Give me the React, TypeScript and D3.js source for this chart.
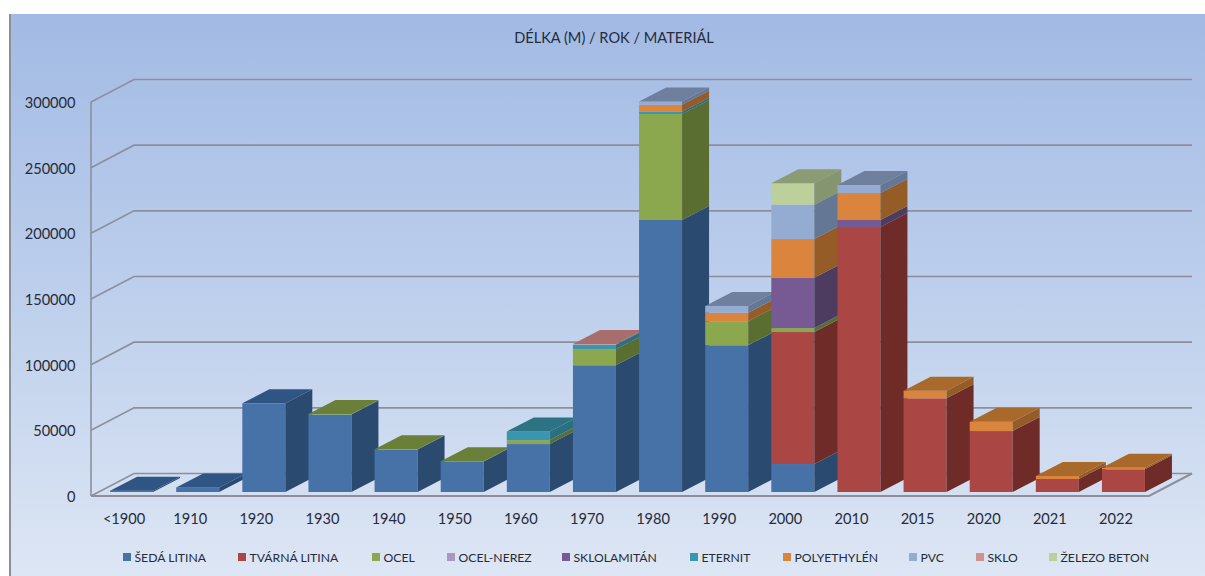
import React from "react";
import * as d3 from "d3";

// Pipe length in metres by decade of installation and material.
const categories = ["<1900", "1910", "1920", "1930", "1940", "1950", "1960", "1970", "1980", "1990", "2000", "2010", "2015", "2020", "2021", "2022"];
const sedaLitina = [1000, 3500, 67500, 59000, 32300, 23300, 36500, 96500, 207100, 111700, 21300, 0, 0, 0, 0, 0];
const tvarnaLitina = [0, 0, 0, 0, 0, 0, 0, 0, 0, 0, 100500, 201800, 71300, 46400, 9900, 17300];
const ocel = [0, 0, 0, 400, 200, 200, 3000, 12200, 80700, 18300, 3000, 0, 0, 0, 0, 0];
const ocelNerez = [0, 0, 0, 0, 0, 0, 0, 0, 0, 0, 0, 0, 0, 0, 0, 0];
const sklolaminat = [0, 0, 0, 0, 0, 0, 0, 0, 0, 0, 38400, 5300, 0, 0, 0, 0];
const eternit = [0, 0, 0, 0, 0, 0, 6600, 3500, 1700, 0, 0, 0, 0, 0, 0, 0];
const polyethylen = [0, 0, 0, 0, 0, 0, 0, 0, 5300, 6500, 29400, 20600, 5800, 7100, 2300, 1200];
const pvc = [0, 0, 0, 0, 0, 0, 0, 0, 2600, 5100, 26200, 6100, 0, 0, 0, 0];
const sklo = [0, 0, 0, 0, 0, 0, 0, 400, 0, 0, 0, 0, 0, 0, 0, 0];
const zelezoBeton = [0, 0, 0, 0, 0, 0, 0, 0, 0, 0, 16200, 0, 0, 0, 0, 0];

const seriesNames = ["ŠEDÁ LITINA", "TVÁRNÁ LITINA", "OCEL", "OCEL-NEREZ", "SKLOLAMITÁN", "ETERNIT", "POLYETHYLÉN", "PVC", "SKLO", "ŽELEZO BETON"];
const seriesValues = [sedaLitina, tvarnaLitina, ocel, ocelNerez, sklolaminat, eternit, polyethylen, pvc, sklo, zelezoBeton];
const frontColors = ["#4672A8", "#AA4643", "#8CA84E", "#A999C2", "#775A93", "#3A96AE", "#DB843D", "#95ACD2", "#D09290", "#BBD09A"];
const sideColors = ["#2B4A70", "#6E2B28", "#5A6E32", "#6E6280", "#4D3B60", "#2A7080", "#965C28", "#647896", "#8A6060", "#85956F"];
const topColors = ["#2F5585", "#7E3431", "#6A8038", "#7F7394", "#5A4870", "#2C7484", "#A8692A", "#6F809E", "#A86E6E", "#8B9C75"];
const legendSwatchX = [123, 238, 372, 447, 562, 690, 783, 909, 976, 1049];
const tickValues = [0, 50000, 100000, 150000, 200000, 250000, 300000];

const WIDTH = 1205;
const HEIGHT = 576;
const FONT = "Lato, Carlito, sans-serif";

// Oblique projection: the floor runs from the front edge to the back wall.
const floor = { left: 91, right: 1149, y: 496 };
const wallDepth = { dx: 43, dy: -22.5 };
const barFront = { dx: 7.5, dy: -4 };
const barDepth = { dx: 27, dy: -14 };

const rows = categories.map((c, i) => {
  const row: Record<string, number | string> = { category: c };
  seriesNames.forEach((n, s) => (row[n] = seriesValues[s][i]));
  return row;
});
const stacked = d3.stack<any>().keys(seriesNames)(rows);

const x = d3.scaleBand<string>().domain(categories).range([floor.left, floor.right]).paddingInner(0.35).paddingOuter(0.175);
const y = d3.scaleLinear().domain([0, 300000]).range([floor.y, 102]);

const pts = (p: [number, number][]) => p.map((q) => q.join(",")).join(" ");

export default function App() {
  const bw = x.bandwidth();
  return (
    <svg width={WIDTH} height={HEIGHT} style={{ position: "absolute", left: 0, top: 0, display: "block" }}>
      <defs>
        <linearGradient id="panelFill" x1="0" y1="0" x2="0" y2="1">
          <stop offset="0" stopColor="#A2BAE4" />
          <stop offset="0.5" stopColor="#BDCFEC" />
          <stop offset="1" stopColor="#DDE6F4" />
        </linearGradient>
      </defs>
      <rect width={WIDTH} height={HEIGHT} fill="#FFFFFF" />
      <rect x={10} y={14} width={WIDTH - 10} height={HEIGHT - 14} fill="url(#panelFill)" />
      <line x1={10} y1={14} x2={10} y2={HEIGHT} stroke="#8C8F96" strokeWidth={2} />

      <text x={614} y={43} textAnchor="middle" fontFamily={FONT} fontSize={14.6} fill="#262C3A">
        DÉLKA (M) / ROK / MATERIÁL
      </text>

      {/* Walls and floor */}
      <g fill="none" stroke="#8B909C" strokeWidth={1.6}>
        {tickValues.map((t) => (
          <polyline
            key={t}
            points={pts([
              [floor.left, y(t)],
              [floor.left + wallDepth.dx, y(t) + wallDepth.dy],
              [floor.right + wallDepth.dx, y(t) + wallDepth.dy],
            ])}
          />
        ))}
        <line x1={floor.left} y1={y(0)} x2={floor.left} y2={y(300000)} />
        <polyline
          points={pts([
            [floor.left, y(0)],
            [floor.right, y(0)],
            [floor.right + wallDepth.dx, y(0) + wallDepth.dy],
          ])}
          strokeWidth={2}
        />
      </g>

      {tickValues.map((t) => (
        <text key={t} x={75.5} y={y(t) + 6} textAnchor="end" fontFamily={FONT} fontSize={14.6} fill="#262C3A">
          {t}
        </text>
      ))}

      {/* Stacked columns, painted left to right so nearer faces cover earlier sides */}
      {categories.map((c, i) => {
        const x0 = (x(c) as number) + barFront.dx;
        const x1 = x0 + bw;
        const base = barFront.dy;
        let topSeries = -1;
        seriesNames.forEach((_, s) => {
          if (seriesValues[s][i] > 0) topSeries = s;
        });
        return (
          <g key={c}>
            {stacked.map((layer, s) => {
              if (seriesValues[s][i] <= 0) return null;
              const yb = y(layer[i][0]) + base;
              const yt = y(layer[i][1]) + base;
              return (
                <g key={layer.key}>
                  <rect x={x0} y={yt} width={bw} height={yb - yt} fill={frontColors[s]} />
                  <polygon
                    fill={sideColors[s]}
                    points={pts([
                      [x1, yb],
                      [x1 + barDepth.dx, yb + barDepth.dy],
                      [x1 + barDepth.dx, yt + barDepth.dy],
                      [x1, yt],
                    ])}
                  />
                  {s === topSeries && (
                    <polygon
                      fill={topColors[s]}
                      points={pts([
                        [x0, yt],
                        [x1, yt],
                        [x1 + barDepth.dx, yt + barDepth.dy],
                        [x0 + barDepth.dx, yt + barDepth.dy],
                      ])}
                    />
                  )}
                </g>
              );
            })}
          </g>
        );
      })}

      {categories.map((c) => (
        <text key={c} x={(x(c) as number) + bw / 2} y={524} textAnchor="middle" fontFamily={FONT} fontSize={14.6} fill="#262C3A">
          {c}
        </text>
      ))}

      {/* Legend */}
      {seriesNames.map((n, s) => (
        <g key={n}>
          <rect x={legendSwatchX[s]} y={553} width={8} height={8} fill={frontColors[s]} />
          <text x={legendSwatchX[s] + 11.5} y={561.5} fontFamily={FONT} fontSize={12.2} fill="#262C3A">
            {n}
          </text>
        </g>
      ))}
    </svg>
  );
}
